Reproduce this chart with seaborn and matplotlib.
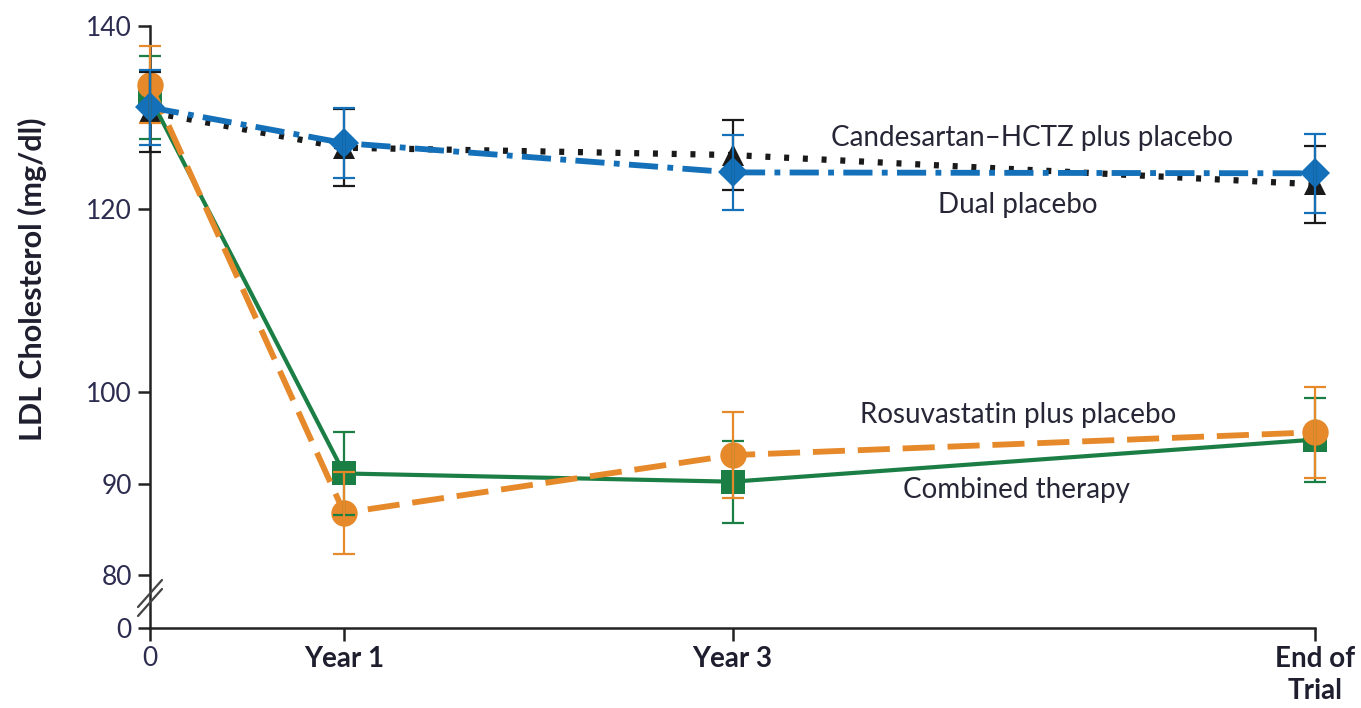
import numpy as np
import pandas as pd
import matplotlib
matplotlib.use("Agg")
import matplotlib.pyplot as plt
import seaborn as sns

# ---- data ----
time_points = [0, 1, 3, 6]
time_labels = ["0", "Year 1", "Year 3", "End of\nTrial"]

combined_mean = [132.2, 91.1, 90.2, 94.8]
combined_err = [4.5, 4.5, 4.5, 4.6]
rosu_mean = [133.6, 86.8, 93.1, 95.6]
rosu_err = [4.2, 4.5, 4.7, 5.0]
cand_mean = [130.6, 126.7, 125.9, 122.7]
cand_err = [4.4, 4.2, 3.8, 4.2]
dual_mean = [131.1, 127.2, 124.0, 123.9]
dual_err = [4.1, 3.8, 4.1, 4.3]

y_ticks = [0, 80, 90, 100, 120, 140]

series_names = ["Combined therapy", "Rosuvastatin plus placebo",
                "Candesartan\u2013HCTZ plus placebo", "Dual placebo"]

df = pd.DataFrame({
    "time": time_points * 4,
    "ldl": combined_mean + rosu_mean + cand_mean + dual_mean,
    "err": combined_err + rosu_err + cand_err + dual_err,
    "group": sum([[n] * 4 for n in series_names], []),
})

styles = {
    "Combined therapy": dict(color="#1b7f45", marker="s", ms=17, ls="-", lw=3.0, z=3),
    "Rosuvastatin plus placebo": dict(color="#e5892b", marker="o", ms=19, ls=(0, (5.5, 2.2)), lw=4.2, z=4),
    "Candesartan\u2013HCTZ plus placebo": dict(color="#1a1a1a", marker="^", ms=16, ls=(0, (0.8, 2.2)), lw=4.5, z=5),
    "Dual placebo": dict(color="#1470b8", marker="D", ms=15, ls=(0, (5, 1.6, 1, 1.6)), lw=4.2, z=6),
}

sns.set_theme(style="white")
plt.rcParams["font.family"] = ["Lato", "DejaVu Sans"]

fig = plt.figure(figsize=(13.61, 7.08), dpi=100)
ax = fig.add_axes([150 / 1361, 1 - 628 / 708, 1165 / 1361, 602 / 708])

GAP0 = 74.21
SLOPE = (80 - GAP0) / 80.0


def fwd(v):
    v = np.asarray(v, dtype=float)
    return np.where(v >= 80, v, GAP0 + v * SLOPE)


def inv(u):
    u = np.asarray(u, dtype=float)
    return np.where(u >= 80, u, (u - GAP0) / SLOPE)


ax.set_yscale("function", functions=(fwd, inv))

for name in series_names:
    st = styles[name]
    sub = df[df["group"] == name]
    sns.lineplot(data=sub, x="time", y="ldl", ax=ax, color=st["color"],
                 marker=st["marker"], markersize=st["ms"], linestyle=st["ls"],
                 linewidth=st["lw"], markeredgewidth=0, markeredgecolor=st["color"],
                 errorbar=None, legend=False, zorder=st["z"], clip_on=False,
                 sort=False)

for name in series_names:
    st = styles[name]
    sub = df[df["group"] == name]
    eb = ax.errorbar(sub["time"], sub["ldl"], yerr=sub["err"], fmt="none",
                     ecolor=st["color"], elinewidth=1.6, capsize=8, capthick=1.6,
                     zorder=10)
    for art in eb.get_children():
        art.set_clip_on(False)

ax.set_xlim(0, 6)
ax.set_ylim(0, 140)
ax.set_xticks(time_points)
ax.set_xticklabels(time_labels)
ax.set_yticks(y_ticks)
ax.set_yticklabels([str(t) for t in y_ticks])
ax.set_xlabel("")
ax.set_ylabel("LDL Cholesterol (mg/dl)", fontsize=22, fontweight="bold",
              color="#1e1e2e")
ax.yaxis.set_label_coords(-0.088, 0.58)

tick_color = "#2c2c50"
ax.tick_params(axis="both", direction="out", length=9, width=1.8,
               color="#222222", labelsize=19, labelcolor=tick_color, pad=4)
ax.tick_params(axis="y", left=True)
ax.tick_params(axis="x", bottom=True)
for i, lab in enumerate(ax.get_xticklabels()):
    if i > 0:
        lab.set_fontweight("bold")
        lab.set_color("#1e1e2e")
        lab.set_fontsize(20)
    lab.set_linespacing(1.3)

for s in ["top", "right"]:
    ax.spines[s].set_visible(False)
for s in ["left", "bottom"]:
    ax.spines[s].set_linewidth(1.8)
    ax.spines[s].set_color("#222222")

# axis break marks
def ax_frac(px, py):
    return (px - 150) / 1165, (628 - py) / 602

for dy in (0, 9):
    x0, y0 = ax_frac(138, 607 + dy)
    x1, y1 = ax_frac(162, 580 + dy)
    ax.plot([x0, x1], [y0, y1], transform=ax.transAxes, color="#444444",
            lw=1.6, clip_on=False, zorder=20)

text_color = "#262636"
fs = 20
ax.text(4.54, 127.8, "Candesartan\u2013HCTZ plus placebo", ha="center", va="center",
        fontsize=fs, color=text_color)
ax.text(4.47, 120.4, "Dual placebo", ha="center", va="center",
        fontsize=fs, color=text_color)
ax.text(4.47, 97.5, "Rosuvastatin plus placebo", ha="center", va="center",
        fontsize=fs, color=text_color)
ax.text(4.46, 89.3, "Combined therapy", ha="center", va="center",
        fontsize=fs, color=text_color)

fig.savefig("out.png", dpi=100, facecolor="white")
